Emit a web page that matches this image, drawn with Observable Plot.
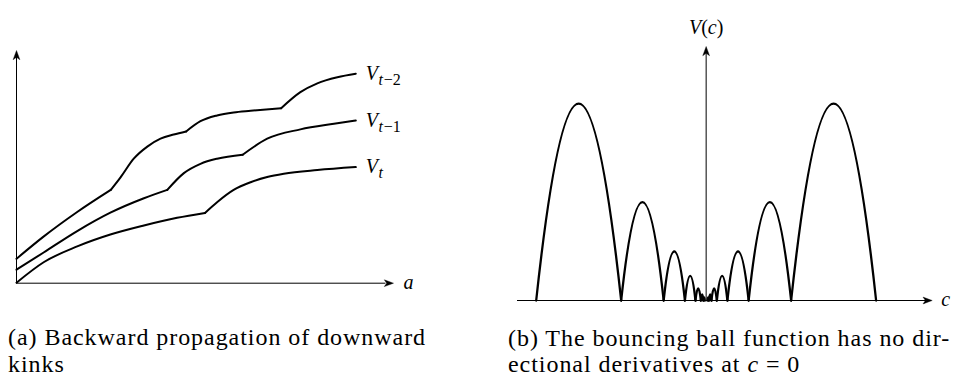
<!DOCTYPE html>
<html>
<head>
<meta charset="utf-8">
<script src="https://cdn.jsdelivr.net/npm/d3@7"></script>
<script src="https://cdn.jsdelivr.net/npm/@observablehq/plot@0.6"></script>
<style>
  html, body { margin: 0; padding: 0; background: #fff; }
  #fig { position: relative; width: 961px; height: 378px; }
  .panel { position: absolute; top: 0; }
  .cap { position: absolute; font-family: "Liberation Serif", "DejaVu Serif", "Liberation Sans", sans-serif; font-size: 24px; line-height: 20px; letter-spacing: 0.95px; color: #000; white-space: nowrap; }
</style>
</head>
<body>
<div id="fig">
  <div class="panel" id="left" style="left:0"></div>
  <div class="panel" id="right" style="left:480px"></div>
  <div class="cap" style="left:8px;top:327px">(a) Backward propagation of downward</div>
  <div class="cap" style="left:8px;top:354px">kinks</div>
  <div class="cap" style="left:508px;top:328px">(b) The bouncing ball function has no dir-</div>
  <div class="cap" style="left:508px;top:354px">ectional derivatives at <i>c</i> = 0</div>
</div>
<script>
// ---- Panel (a): value functions, split into smooth pieces at each kink ----
const vT = [
  [[0, 0.02], [0.72, 0.90], [1.61, 1.58], [2.49, 2.09], [3.38, 2.48], [4.26, 2.81], [5.0, 3.02]],
  [[5.0, 3.02], [5.32, 3.48], [5.76, 4.01], [6.21, 4.34], [6.65, 4.56], [7.09, 4.70], [7.98, 4.86], [9.0, 4.99]]
];
const vT1 = [
  [[0, 0.58], [0.72, 1.32], [1.61, 2.24], [2.49, 3.03], [3.38, 3.65], [4.0, 4.01]],
  [[4.0, 4.01], [4.44, 4.73], [4.88, 5.13], [5.32, 5.35], [6.0, 5.52]],
  [[6.0, 5.52], [6.65, 6.21], [7.53, 6.61], [8.42, 6.85], [9.0, 6.99]]
];
const vT2 = [
  [[0, 1.05], [0.7, 1.98], [1.6, 3.05], [2.5, 4.01]],
  [[2.5, 4.01], [2.76, 4.55], [3.11, 5.35], [3.47, 5.87], [3.82, 6.21], [4.17, 6.39], [4.5, 6.52]],
  [[4.5, 6.52], [4.88, 6.96], [5.32, 7.21], [5.76, 7.34], [6.21, 7.41], [7.02, 7.52]],
  [[7.02, 7.52], [7.53, 8.21], [7.98, 8.59], [8.51, 8.85], [9.0, 9.0]]
];
const seriesNames = ["V_t−2", "V_t−1", "V_t"];
const seriesPieces = [vT2, vT1, vT];

// ---- Panel (b): bouncing ball arches (edges on |c|, apex heights) ----
const archEdges = [1, 0.5, 0.25, 0.125, 0.063, 0.031, 0.016, 0.008];
const archHeights = [1, 0.5, 0.25, 0.125, 0.062, 0.031, 0.016];

// long table for the kinked curves
const curveRows = [];
seriesPieces.forEach((pieces, s) => pieces.forEach((pts, p) =>
  pts.forEach(([a, v]) => curveRows.push({a, v, seg: `${s}-${p}`}))));
const curveEnds = seriesPieces.map((pieces, s) => {
  const last = pieces[pieces.length - 1];
  const [a, v] = last[last.length - 1];
  return {a, v, label: seriesNames[s]};
});

// long table for the arches: start, apex, end of each bounce on both sides
const archRows = [];
[-1, 1].forEach(side => archHeights.forEach((h, i) => {
  const e0 = archEdges[i], e1 = archEdges[i + 1];
  const id = `${side}-${i}`;
  archRows.push({c: side * e0, v: 0, id});
  archRows.push({c: side * (e0 + e1) / 2, v: h, id});
  archRows.push({c: side * e1, v: 0, id});
}));

// a curve that draws an exact parabola through (start, apex, end) triples
function parabola(context) {
  let pts = [];
  return {
    areaStart() {}, areaEnd() {},
    lineStart() { pts = []; },
    point(x, y) { pts.push([+x, +y]); },
    lineEnd() {
      if (!pts.length) return;
      context.moveTo(pts[0][0], pts[0][1]);
      for (let i = 0; i + 2 < pts.length; i += 2) {
        const [x0, y0] = pts[i], [x1, y1] = pts[i + 1], [x2, y2] = pts[i + 2];
        context.quadraticCurveTo(2 * x1 - (x0 + x2) / 2, 2 * y1 - (y0 + y2) / 2, x2, y2);
      }
    }
  };
}

// stealth-style arrowhead pointing right, tip at the origin
const stealth = {
  draw(ctx, size) {
    const r = Math.sqrt(size / Math.PI);
    ctx.moveTo(0, 0);
    ctx.lineTo(-2.3 * r, -0.85 * r);
    ctx.lineTo(-1.7 * r, 0);
    ctx.lineTo(-2.3 * r, 0.85 * r);
    ctx.closePath();
  }
};

const fontStack = "'Liberation Serif', 'DejaVu Serif', 'Liberation Sans', sans-serif";
const svgStyle = {fontFamily: fontStack, fontSize: "20px", background: "transparent", overflow: "visible", color: "#000"};

// italic letters, upright symbols, "_" starts a subscript
function runs(s) {
  return (s.match(/[A-Za-z]+|[^A-Za-z]+/g) || []).map(p => ({s: p, it: /[A-Za-z]/.test(p)}));
}
function typeset(svg) {
  d3.select(svg).selectAll("g[aria-label=text] text").each(function () {
    const s = this.textContent;
    const [body, sub] = s.split("_");
    this.textContent = "";
    const el = d3.select(this);
    runs(body).forEach(r => el.append("tspan").attr("font-style", r.it ? "italic" : "normal").text(r.s));
    if (sub) runs(sub).forEach((r, i) => {
      const t = el.append("tspan").attr("font-style", r.it ? "italic" : "normal").attr("font-size", 16).text(r.s);
      if (i === 0) t.attr("dy", 5).attr("dx", 0.5);
      else t.attr("dx", 0.8);
    });
  });
}

const left = Plot.plot({
  width: 480, height: 310,
  marginLeft: 16, marginRight: 87, marginTop: 50, marginBottom: 27.3,
  x: {domain: [0, 10], axis: null},
  y: {domain: [0, 10], axis: null},
  style: svgStyle,
  marks: [
    Plot.ruleY([0], {x1: 0, x2: 9.8, stroke: "black", strokeWidth: 1}),
    Plot.ruleX([0], {y1: 0, y2: 9.8, stroke: "black", strokeWidth: 1}),
    Plot.dot([{x: 10, y: 0, rot: 0}, {x: 0, y: 10, rot: -90}],
      {x: "x", y: "y", rotate: "rot", symbol: stealth, r: 4, fill: "black", stroke: "black", strokeWidth: 0.4}),
    Plot.line(curveRows, {x: "a", y: "v", z: "seg", curve: "monotone-x", stroke: "black", strokeWidth: 2}),
    Plot.text(curveEnds, {x: "a", y: "v", text: "label", textAnchor: "start", dx: 10, fill: "black"}),
    Plot.text(["a"], {x: 10, y: 0, text: d => d, textAnchor: "start", dx: 10, dy: -1, fill: "black"})
  ]
});
typeset(left);
document.getElementById("left").append(left);

const right = Plot.plot({
  width: 481, height: 310,
  marginLeft: 37, marginRight: 29.3, marginTop: 46, marginBottom: 10,
  x: {domain: [-1.11, 1.33], axis: null},
  y: {domain: [0, 1.29], axis: null},
  style: svgStyle,
  marks: [
    Plot.ruleY([0], {x1: -1.11, x2: 1.3, stroke: "black", strokeWidth: 1}),
    Plot.ruleX([0], {y1: 0, y2: 1.26, stroke: "black", strokeWidth: 1}),
    Plot.dot([{x: 1.33, y: 0, rot: 0}, {x: 0, y: 1.29, rot: -90}],
      {x: "x", y: "y", rotate: "rot", symbol: stealth, r: 4, fill: "black", stroke: "black", strokeWidth: 0.4}),
    Plot.line(archRows, {x: "c", y: "v", z: "id", curve: parabola, stroke: "black", strokeWidth: 2.3}),
    Plot.text(["V(c)"], {x: 0, y: 1.29, text: d => d, dy: -19, fill: "black"}),
    Plot.text(["c"], {x: 1.33, y: 0, text: d => d, textAnchor: "start", dx: 9, dy: -1, fill: "black"})
  ]
});
typeset(right);
document.getElementById("right").append(right);
</script>
</body>
</html>
